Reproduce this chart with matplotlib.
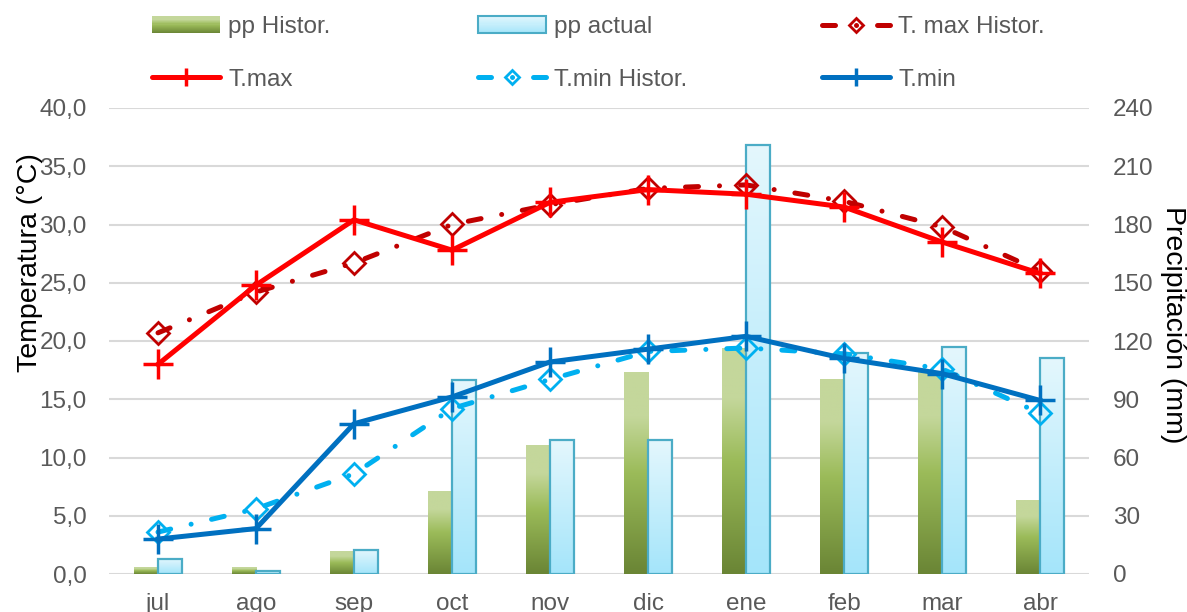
import matplotlib
import numpy as np

matplotlib.use("Agg")
import matplotlib.pyplot as plt
from matplotlib.colors import LinearSegmentedColormap
from matplotlib.legend_handler import HandlerBase
from matplotlib.lines import Line2D
from matplotlib.patches import Rectangle

plt.rcParams["font.family"] = ["Liberation Sans", "DejaVu Sans"]

months = ["jul", "ago", "sep", "oct", "nov", "dic", "ene", "feb", "mar", "abr"]
pp_histor = [3.3, 3.3, 11.5, 42.4, 66, 104, 116, 100, 104, 38]
pp_actual = [7.9, 1.7, 12.4, 99.9, 69, 69, 221, 114, 117, 111]
tmax_histor = [20.7, 24.2, 26.7, 30.0, 31.7, 33.1, 33.4, 32.0, 29.8, 26.0]
tmax = [18.0, 24.8, 30.4, 27.8, 31.9, 33.0, 32.6, 31.5, 28.5, 25.8]
tmin_histor = [3.6, 5.6, 8.6, 14.2, 16.7, 19.1, 19.4, 18.9, 17.6, 13.8]
tmin = [3.0, 3.9, 12.9, 15.2, 18.2, 19.3, 20.4, 18.5, 17.2, 14.9]

temp_ticks = np.arange(0, 45, 5)
pp_ticks = np.arange(0, 270, 30)

GREEN = LinearSegmentedColormap.from_list(
    "green", [(0.0, "#6a8535"), (0.5, "#9bbb59"), (0.78, "#c4d79b"), (1.0, "#c4d79b")]
)
BLUE = LinearSegmentedColormap.from_list("blue", [(0.0, "#a4e5fa"), (1.0, "#e4f7fd")])
BLUE_EDGE = "#4bacc6"
TICK_COLOR = "#595959"
GRID_COLOR = "#d9d9d9"
FS = 17.5


class GradientHandler(HandlerBase):
    def __init__(self, cmap, edge=None):
        super().__init__()
        self.cmap = cmap
        self.edge = edge

    def create_artists(self, legend, orig_handle, xdescent, ydescent, width, height, fontsize, trans):
        n = 16
        artists = []
        for i in range(n):
            artists.append(Rectangle(
                (-xdescent, -ydescent + height * i / n), width, height / n * 1.05,
                facecolor=self.cmap((i + 0.5) / n), edgecolor="none", transform=trans))
        if self.edge:
            artists.append(Rectangle((-xdescent, -ydescent), width, height, facecolor="none",
                                     edgecolor=self.edge, linewidth=1.5, transform=trans))
        return artists


def gradient_bar(ax, x0, width, height, cmap, edge=None):
    if height <= 0:
        return
    grad = np.linspace(0, 1, 256).reshape(-1, 1)
    ax.imshow(grad, cmap=cmap, origin="lower", aspect="auto", interpolation="bilinear",
              extent=(x0, x0 + width, 0, height), zorder=2)
    if edge:
        ax.add_patch(Rectangle((x0, 0), width, height, facecolor="none", edgecolor=edge,
                               linewidth=1.6, zorder=3))


fig = plt.figure(figsize=(11.87, 6.12), dpi=100)
ax2 = fig.add_axes([109 / 1187, 1 - 574 / 612, 980 / 1187, 466 / 612])
ax = ax2.twinx()
ax.set_zorder(ax2.get_zorder() + 1)
ax.patch.set_visible(False)

x = np.arange(len(months))
bw = 0.245
for i in range(len(months)):
    gradient_bar(ax2, x[i] - bw, bw, pp_histor[i], GREEN)
    gradient_bar(ax2, x[i], bw, pp_actual[i], BLUE, edge=BLUE_EDGE)

for t in pp_ticks:
    ax2.axhline(t, color=GRID_COLOR, linewidth=1.5, zorder=0)

ax2.set_xlim(-0.5, len(months) - 0.5)
ax2.set_ylim(0, 240)
ax2.set_yticks(pp_ticks)
ax2.yaxis.tick_right()
ax2.yaxis.set_label_position("right")
ax2.set_ylabel("Precipitación (mm)", fontsize=20.5, rotation=270, color="black")
ax2.yaxis.label.set_verticalalignment("center")
ax2.yaxis.set_label_coords(1 + 84 / 980, (574 - 325) / 466)
ax2.tick_params(axis="y", length=0, pad=17, labelsize=FS, labelcolor=TICK_COLOR)
ax2.set_xticks(x)
ax2.set_xticklabels(months)
ax2.tick_params(axis="x", length=0, pad=14, labelsize=FS, labelcolor=TICK_COLOR)

# temperatures on the top axes, ticks on the left side
ax.yaxis.tick_left()
ax.yaxis.set_label_position("left")
ax.set_ylim(0, 40)
ax.set_yticks(temp_ticks)
ax.set_yticklabels([f"{t:.1f}".replace(".", ",") for t in temp_ticks])
ax.tick_params(axis="y", length=0, pad=16, labelsize=FS, labelcolor=TICK_COLOR)
ax.set_ylabel("Temperatura (°C)", fontsize=20.5, color="black")
ax.yaxis.label.set_verticalalignment("center")
ax.yaxis.set_label_coords(-79 / 980, (574 - 263) / 466)

for a in (ax, ax2):
    for s in a.spines.values():
        s.set_visible(False)

dashdot = (2.6, 4.2, 0.01, 4.2)
styles = {
    "tmax_histor": dict(color="#c00000", linewidth=3.6, dashes=dashdot, dash_capstyle="round",
                        marker="D", markersize=11, markerfacecolor="none", markeredgewidth=2),
    "tmax": dict(color="#ff0000", linewidth=3.6, marker="+", markersize=22, markeredgewidth=2.5),
    "tmin_histor": dict(color="#00b0f0", linewidth=3.6, dashes=dashdot, dash_capstyle="round",
                        marker="D", markersize=11, markerfacecolor="none", markeredgewidth=2),
    "tmin": dict(color="#0070c0", linewidth=3.6, marker="+", markersize=22, markeredgewidth=2.5),
}
ax.plot(x, tmax_histor, zorder=3, **styles["tmax_histor"])
ax.plot(x, tmax, zorder=4, **styles["tmax"])
ax.plot(x, tmin_histor, zorder=3, **styles["tmin_histor"])
ax.plot(x, tmin, zorder=4, **styles["tmin"])

ax.set_xlim(-0.5, len(months) - 0.5)

# legend: three columns placed like the original, with smaller markers
line_handles = {}
for k, v in styles.items():
    st = dict(v)
    st["markersize"] = v["markersize"] * 0.62
    line_handles[k] = Line2D([], [], solid_capstyle="round", **st)
h_pph = Rectangle((0, 0), 1, 1)
h_ppa = Rectangle((0, 0), 1, 1)
handler_map = {h_pph: GradientHandler(GREEN), h_ppa: GradientHandler(BLUE, edge=BLUE_EDGE)}
columns = [
    (152, [h_pph, line_handles["tmax"]], ["pp Histor.", "T.max"]),
    (478, [h_ppa, line_handles["tmin_histor"]], ["pp actual", "T.min Histor."]),
    (822, [line_handles["tmax_histor"], line_handles["tmin"]], ["T. max Histor.", "T.min"]),
]
for x_px, handles, labels in columns:
    fig.legend(handles, labels, loc="upper left", bbox_to_anchor=(x_px / 1187, 1 - 16 / 612),
               frameon=False, fontsize=FS, handlelength=2.8, handletextpad=0.33,
               labelspacing=1.27, borderpad=0, borderaxespad=0, numpoints=1,
               handler_map=handler_map, labelcolor=TICK_COLOR)

fig.savefig("out.png", dpi=100)
